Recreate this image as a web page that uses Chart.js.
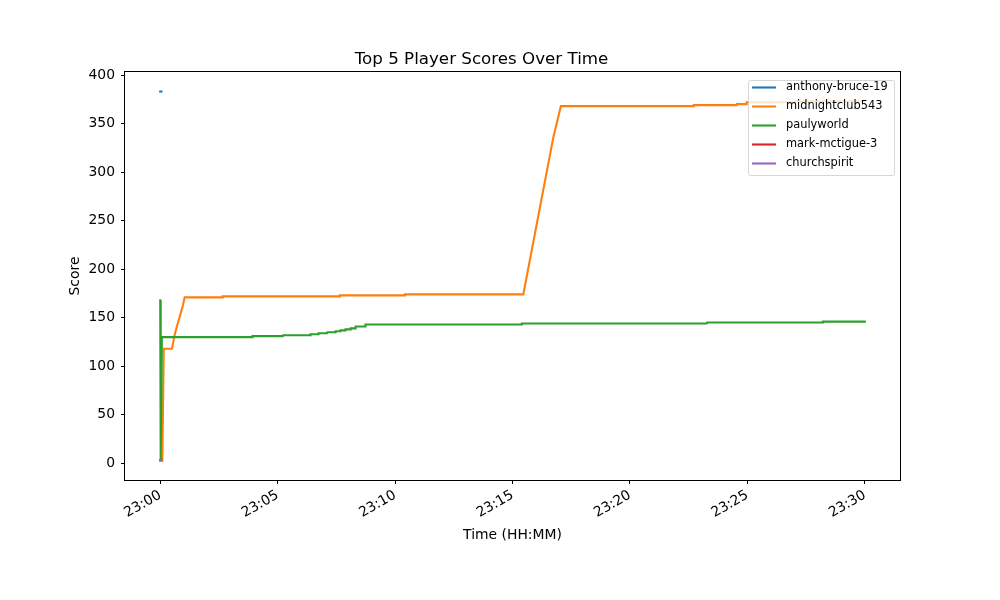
<!DOCTYPE html>
<html>
<head>
<meta charset="utf-8">
<script src="https://cdn.jsdelivr.net/npm/chart.js@4.4.1/dist/chart.umd.min.js"></script>
<style>
  html, body { margin: 0; padding: 0; background: #fff; }
</style>
</head>
<body>
<canvas id="scoreChart" width="1000" height="600"></canvas>
<script>
// times are minutes after 23:00
const playerNames = ["anthony-bruce-19", "midnightclub543", "paulyworld", "mark-mctigue-3", "churchspirit"];
const playerColors = ["#1f77b4", "#ff7f0e", "#2ca02c", "#d62728", "#9467bd"];

const anthonyTimes = [0, 0.05];
const anthonyScores = [383, 383];

const midnightTimes = [0.09, 0.15, 0.5, 0.61, 0.72, 0.83, 0.97, 1.04, 2.64, 2.66, 7.63, 7.65, 10.4, 10.42,
  15.46, 16.74, 17.06, 22.7, 22.72, 24.54, 24.56, 24.95, 24.97, 27.0, 27.02, 30.0];
const midnightScores = [3, 118, 118, 132, 142, 151, 163, 171, 171, 172, 172, 173, 173, 174,
  174, 336, 368, 368, 369, 369, 370, 370, 372, 372, 373, 373];

const paulyTimes = [0, 0.02, 0.07, 3.91, 3.93, 5.22, 5.24, 6.38, 6.4, 6.72, 6.74, 7.1, 7.12, 7.45, 7.47,
  7.66, 7.68, 7.87, 7.89, 8.09, 8.11, 8.3, 8.32, 8.72, 8.74, 15.38, 15.4, 23.27, 23.29, 28.2, 28.22, 30.0];
const paulyScores = [168, 3, 130, 130, 131, 131, 132, 132, 133, 133, 134, 134, 135, 135, 136,
  136, 137, 137, 138, 138, 139, 139, 141, 141, 143, 143, 144, 144, 145, 145, 146, 146];

const markTimes = [0, 0.05];
const markScores = [3, 3];

const churchTimes = [0, 0.05];
const churchScores = [3, 3];

const xTicks = [0, 5, 10, 15, 20, 25, 30];
const xTickLabels = ["23:00", "23:05", "23:10", "23:15", "23:20", "23:25", "23:30"];
const yTicks = [0, 50, 100, 150, 200, 250, 300, 350, 400];

const FONT = "'DejaVu Sans', sans-serif";
const LINE_W = 2.1;

function toPoints(times, scores) {
  return times.map((t, i) => ({ x: t, y: scores[i] }));
}

const series = [
  toPoints(anthonyTimes, anthonyScores),
  toPoints(midnightTimes, midnightScores),
  toPoints(paulyTimes, paulyScores),
  toPoints(markTimes, markScores),
  toPoints(churchTimes, churchScores),
];

// frame around the plot + legend box inside the axes (top right)
const framePlugin = {
  id: "frame",
  afterDatasetsDraw(chart) {
    const { ctx, chartArea: a } = chart;
    ctx.save();
    ctx.strokeStyle = "#000";
    ctx.lineWidth = 1;
    ctx.strokeRect(Math.round(a.left) - 0.5, Math.round(a.top) - 0.5,
      Math.round(a.right - a.left) + 1, Math.round(a.bottom - a.top) + 1);

    const bx = 748, by = 80, bw = 146, bh = 95;
    ctx.fillStyle = "rgba(255,255,255,0.8)";
    ctx.strokeStyle = "rgba(204,204,204,0.8)";
    ctx.lineWidth = 1;
    ctx.beginPath();
    ctx.roundRect(bx + 0.5, by + 0.5, bw, bh, 2);
    ctx.fill();
    ctx.stroke();

    ctx.font = "11.4px " + FONT;
    ctx.textBaseline = "middle";
    ctx.textAlign = "left";
    playerNames.forEach((name, i) => {
      const y = by + 7.5 + i * 19;
      ctx.strokeStyle = playerColors[i];
      ctx.lineWidth = LINE_W;
      ctx.beginPath();
      ctx.moveTo(752, y);
      ctx.lineTo(776, y);
      ctx.stroke();
      ctx.fillStyle = "#000";
      ctx.fillText(name, 786, y);
    });
    ctx.restore();
  },
};

new Chart(document.getElementById("scoreChart"), {
  type: "line",
  data: {
    datasets: playerNames.map((name, i) => ({
      label: name,
      data: series[i],
      borderColor: playerColors[i],
      backgroundColor: playerColors[i],
      borderWidth: LINE_W,
      borderCapStyle: "square",
      pointRadius: 0,
      tension: 0,
      order: playerNames.length - i,
    })),
  },
  options: {
    responsive: false,
    animation: false,
    devicePixelRatio: 1,
    layout: { padding: { left: 63, right: 100, top: 0, bottom: 52 } },
    plugins: {
      legend: { display: false },
      tooltip: { enabled: false },
      title: {
        display: true,
        text: "Top 5 Player Scores Over Time",
        color: "#000",
        font: { family: FONT, size: 16.7, weight: "normal" },
        padding: { top: 50, bottom: 2 },
      },
    },
    scales: {
      x: {
        type: "linear",
        min: -1.5,
        max: 31.5,
        border: { display: false },
        grid: { drawOnChartArea: false, drawTicks: true, tickLength: 4, color: "#000" },
        ticks: {
          color: "#000",
          font: { family: FONT, size: 13.9 },
          padding: 3,
          minRotation: 30,
          maxRotation: 30,
          autoSkip: false,
          callback: (v) => xTickLabels[xTicks.indexOf(v)] ?? "",
        },
        afterBuildTicks: (scale) => { scale.ticks = xTicks.map((v) => ({ value: v })); },
        afterFit: (scale) => { scale.height = 68; },
        title: {
          display: true,
          text: "Time (HH:MM)",
          color: "#000",
          font: { family: FONT, size: 13.9 },
          padding: { top: 4, bottom: 4 },
        },
      },
      y: {
        min: -17.2,
        max: 403.1,
        border: { display: false },
        grid: { drawOnChartArea: false, drawTicks: true, tickLength: 4, color: "#000" },
        ticks: {
          color: "#000",
          font: { family: FONT, size: 13.9 },
          padding: 6,
        },
        afterBuildTicks: (scale) => { scale.ticks = yTicks.map((v) => ({ value: v })); },
        afterFit: (scale) => { scale.width = 62; },
        title: {
          display: true,
          text: "Score",
          color: "#000",
          font: { family: FONT, size: 13.9 },
          padding: { top: 4, bottom: 4 },
        },
      },
    },
  },
  plugins: [framePlugin],
});
</script>
</body>
</html>
